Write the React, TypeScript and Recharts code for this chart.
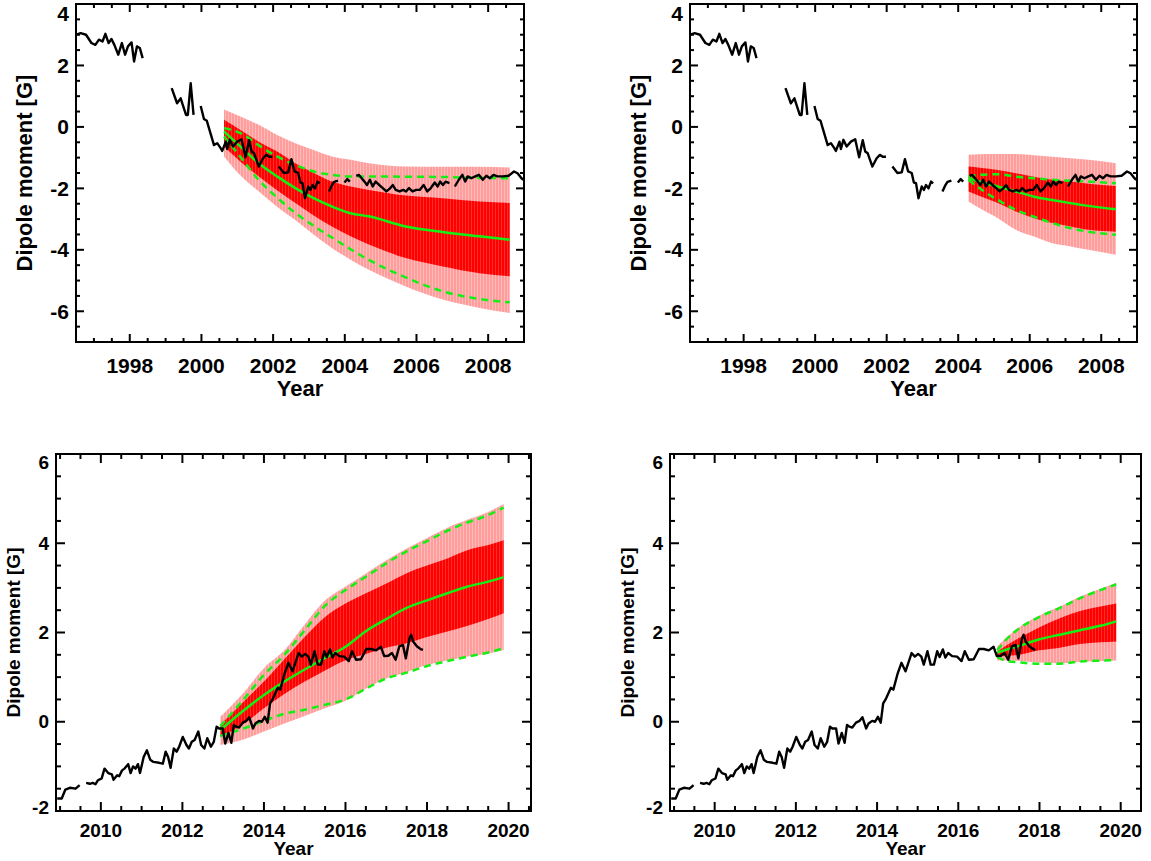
import React from "react";
import { Area, ComposedChart, Line, XAxis, YAxis } from "recharts";

// [year, dipole moment] — null marks a gap in the observed record
type Obs = [number, number | null];
// [year, outerLo, innerLo, dashLo, median, dashHi, innerHi, outerHi]
type Run = [number, number, number, number, number, number, number, number];

const OBS_1996_2009: Obs[] = [
  [1996.5, 3.0], [1996.63, 3.05], [1996.78, 3.0], [1996.93, 2.73], [1997.04, 2.67], [1997.14, 2.84],
  [1997.24, 2.78], [1997.32, 3.03], [1997.41, 2.73], [1997.49, 2.86], [1997.57, 2.67], [1997.68, 2.35],
  [1997.78, 2.73], [1997.87, 2.35], [1997.95, 2.62], [1998.05, 2.75], [1998.12, 2.13], [1998.2, 2.62],
  [1998.28, 2.57], [1998.36, 2.24],
  [1998.8, null],
  [1999.17, 1.26], [1999.32, 0.77], [1999.42, 0.93], [1999.57, 0.39], [1999.62, 0.39], [1999.7, 1.42],
  [1999.78, 0.39],
  [1999.88, null],
  [1999.98, 0.68], [2000.07, 0.26], [2000.15, 0.2], [2000.21, -0.04], [2000.35, -0.59], [2000.44, -0.53],
  [2000.54, -0.7], [2000.58, -0.78], [2000.68, -0.48], [2000.72, -0.72], [2000.79, -0.42], [2000.88, -0.64],
  [2001.0, -0.48], [2001.12, -0.4], [2001.23, -0.99], [2001.33, -0.43], [2001.4, -0.8], [2001.47, -0.86],
  [2001.6, -1.29], [2001.72, -1.02], [2001.81, -0.91], [2001.89, -0.97], [2001.98, -0.97],
  [2002.07, null],
  [2002.16, -1.29], [2002.3, -1.5], [2002.42, -1.48], [2002.51, -1.05], [2002.6, -1.45], [2002.7, -1.5],
  [2002.76, -1.81], [2002.82, -1.83], [2002.89, -2.32], [2002.98, -1.94], [2003.04, -2.05], [2003.1, -1.89],
  [2003.17, -2.0], [2003.24, -1.78], [2003.3, -1.84],
  [2003.43, null],
  [2003.56, -2.1], [2003.63, -1.92], [2003.7, -1.79], [2003.81, -1.75],
  [2003.9, null],
  [2003.99, -1.81], [2004.07, -1.7], [2004.14, -1.78],
  [2004.23, null],
  [2004.32, -1.59], [2004.39, -1.56], [2004.47, -1.67], [2004.55, -1.78], [2004.62, -1.89], [2004.7, -1.72],
  [2004.78, -1.94], [2004.86, -1.78], [2004.96, -1.89], [2005.06, -1.99], [2005.16, -2.1], [2005.27, -1.99],
  [2005.34, -1.89], [2005.42, -2.05], [2005.53, -2.1], [2005.63, -2.05], [2005.71, -2.1], [2005.79, -1.99],
  [2005.89, -2.1], [2005.99, -2.05], [2006.09, -2.05], [2006.2, -1.89], [2006.3, -2.1], [2006.4, -1.99],
  [2006.51, -1.81], [2006.59, -1.94], [2006.66, -1.78], [2006.74, -1.89], [2006.81, -1.78], [2006.92, -1.83],
  [2007.0, null],
  [2007.07, -1.94], [2007.18, -1.72], [2007.28, -1.56], [2007.36, -1.78], [2007.43, -1.61], [2007.53, -1.67],
  [2007.64, -1.61], [2007.74, -1.56], [2007.85, -1.72], [2007.95, -1.59], [2008.05, -1.67], [2008.15, -1.56],
  [2008.26, -1.61], [2008.41, -1.61], [2008.57, -1.59], [2008.72, -1.45], [2008.82, -1.51], [2008.93, -1.67],
  [2008.98, -1.72],
];

const OBS_2009_2018: Obs[] = [
  [2008.93, -1.72], [2009.04, -1.72], [2009.13, -1.52], [2009.24, -1.48], [2009.38, -1.5], [2009.48, -1.42],
  [2009.56, null],
  [2009.64, -1.37], [2009.73, -1.39], [2009.8, -1.37], [2009.87, -1.4], [2009.93, -1.31], [2010.02, -1.27],
  [2010.09, -1.05], [2010.18, -1.15], [2010.27, -1.18], [2010.31, -1.3], [2010.4, -1.2], [2010.45, -1.22],
  [2010.52, -1.09], [2010.58, -1.05], [2010.67, -0.95], [2010.73, -1.15], [2010.79, -1.0], [2010.85, -1.05],
  [2010.91, -0.95], [2010.96, -1.15], [2011.05, -0.79], [2011.13, -0.64], [2011.21, -0.85], [2011.29, -0.9],
  [2011.43, -0.92], [2011.52, -0.94], [2011.59, -0.67], [2011.65, -0.79], [2011.71, -1.03], [2011.79, -0.6],
  [2011.86, -0.67], [2011.92, -0.56], [2012.01, -0.34], [2012.1, -0.52], [2012.16, -0.6], [2012.23, -0.45],
  [2012.3, -0.41], [2012.39, -0.22], [2012.46, -0.52], [2012.54, -0.6], [2012.61, -0.37], [2012.7, -0.56],
  [2012.77, -0.45], [2012.84, -0.11], [2012.9, -0.15], [2012.99, -0.15], [2013.05, -0.49], [2013.13, -0.25],
  [2013.2, -0.47], [2013.26, -0.07], [2013.32, -0.11], [2013.39, -0.13], [2013.48, -0.02], [2013.57, 0.02],
  [2013.64, 0.1], [2013.73, -0.15], [2013.79, -0.04], [2013.88, 0.02], [2013.95, 0.0], [2014.02, 0.11],
  [2014.09, -0.02], [2014.15, 0.41], [2014.21, 0.5], [2014.34, 0.76], [2014.4, 0.72], [2014.5, 1.06],
  [2014.6, 1.32], [2014.7, 1.13], [2014.85, 1.54], [2014.93, 1.46], [2015.01, 1.52], [2015.09, 1.46],
  [2015.15, 1.28], [2015.24, 1.58], [2015.32, 1.28], [2015.4, 1.28], [2015.48, 1.58], [2015.54, 1.45],
  [2015.62, 1.62], [2015.68, 1.44], [2015.75, 1.54], [2015.85, 1.47], [2015.97, 1.46], [2016.08, 1.36],
  [2016.16, 1.58], [2016.26, 1.39], [2016.38, 1.4], [2016.51, 1.63], [2016.63, 1.63], [2016.75, 1.6],
  [2016.87, 1.68], [2016.95, 1.47], [2017.05, 1.48], [2017.14, 1.54], [2017.23, 1.39], [2017.32, 1.69],
  [2017.41, 1.72], [2017.48, 1.42], [2017.57, 1.87], [2017.61, 1.95], [2017.66, 1.8], [2017.75, 1.69],
  [2017.84, 1.63], [2017.9, 1.61],
];

const RUN_2000: Run[] = [
  [2000.63, -0.96, -0.64, -0.31, -0.15, -0.04, 0.23, 0.57],
  [2001.09, -1.58, -1.13, -0.98, -0.64, -0.2, -0.1, 0.34],
  [2001.6, -2.1, -1.61, -1.73, -1.18, -0.6, -0.48, 0.07],
  [2002.11, -2.6, -2.06, -2.3, -1.61, -0.96, -0.8, -0.26],
  [2002.62, -3.03, -2.48, -2.8, -1.99, -1.24, -1.18, -0.53],
  [2003.13, -3.5, -2.88, -3.22, -2.32, -1.45, -1.5, -0.75],
  [2003.64, -3.94, -3.24, -3.6, -2.59, -1.56, -1.78, -0.96],
  [2004.16, -4.32, -3.56, -3.98, -2.81, -1.61, -1.94, -1.07],
  [2004.67, -4.65, -3.83, -4.33, -2.91, -1.61, -2.05, -1.18],
  [2005.7, -5.19, -4.27, -4.9, -3.24, -1.62, -2.23, -1.29],
  [2006.73, -5.62, -4.54, -5.35, -3.42, -1.63, -2.32, -1.3],
  [2007.76, -5.89, -4.76, -5.6, -3.56, -1.66, -2.43, -1.3],
  [2008.6, -6.06, -4.86, -5.71, -3.67, -1.67, -2.48, -1.32],
];

const RUN_2004: Run[] = [
  [2004.29, -2.43, -2.1, -1.72, -1.67, -1.62, -1.29, -0.91],
  [2004.6, -2.65, -2.25, -2.0, -1.78, -1.56, -1.33, -0.89],
  [2005.11, -2.97, -2.48, -2.38, -1.94, -1.54, -1.4, -0.88],
  [2005.61, -3.35, -2.75, -2.7, -2.1, -1.62, -1.51, -0.88],
  [2006.12, -3.57, -2.97, -2.92, -2.27, -1.67, -1.62, -0.92],
  [2006.63, -3.79, -3.13, -3.13, -2.38, -1.72, -1.72, -0.97],
  [2007.14, -3.89, -3.24, -3.3, -2.48, -1.75, -1.78, -1.02],
  [2007.64, -4.0, -3.35, -3.41, -2.57, -1.78, -1.85, -1.07],
  [2008.41, -4.16, -3.41, -3.51, -2.68, -1.83, -1.92, -1.18],
];

const RUN_2013: Run[] = [
  [2012.93, -0.52, -0.34, -0.32, -0.19, -0.1, -0.07, 0.11],
  [2013.5, -0.4, -0.05, -0.15, 0.25, 0.5, 0.45, 0.65],
  [2014.0, -0.22, 0.3, 0.02, 0.6, 1.05, 0.9, 1.2],
  [2014.5, -0.04, 0.62, 0.18, 0.9, 1.5, 1.4, 1.6],
  [2015.0, 0.13, 0.9, 0.27, 1.17, 2.05, 1.9, 2.18],
  [2015.5, 0.3, 1.15, 0.38, 1.43, 2.6, 2.35, 2.72],
  [2016.0, 0.47, 1.38, 0.5, 1.68, 2.95, 2.65, 3.03],
  [2016.5, 0.74, 1.52, 0.74, 2.03, 3.25, 2.88, 3.32],
  [2017.0, 0.97, 1.66, 0.97, 2.3, 3.55, 3.1, 3.62],
  [2017.5, 1.11, 1.76, 1.1, 2.55, 3.82, 3.33, 3.88],
  [2018.0, 1.27, 1.9, 1.25, 2.72, 4.05, 3.5, 4.12],
  [2018.5, 1.37, 2.02, 1.36, 2.88, 4.28, 3.66, 4.35],
  [2019.0, 1.46, 2.15, 1.46, 3.03, 4.47, 3.85, 4.53],
  [2019.5, 1.53, 2.3, 1.55, 3.14, 4.63, 3.96, 4.7],
  [2019.88, 1.61, 2.43, 1.65, 3.24, 4.8, 4.07, 4.88],
];

const RUN_2017: Run[] = [
  [2016.96, 1.37, 1.46, 1.45, 1.55, 1.6, 1.57, 1.69],
  [2017.2, 1.37, 1.48, 1.36, 1.62, 1.86, 1.72, 1.9],
  [2017.5, 1.36, 1.5, 1.33, 1.7, 2.09, 1.88, 2.12],
  [2018.0, 1.33, 1.6, 1.3, 1.85, 2.35, 2.12, 2.38],
  [2018.5, 1.31, 1.66, 1.3, 1.95, 2.55, 2.32, 2.58],
  [2019.0, 1.34, 1.74, 1.35, 2.05, 2.77, 2.48, 2.8],
  [2019.5, 1.36, 1.78, 1.37, 2.15, 2.95, 2.58, 2.98],
  [2019.89, 1.37, 1.8, 1.38, 2.25, 3.08, 2.65, 3.11],
];

const X_MAJOR_TOP = [1998, 2000, 2002, 2004, 2006, 2008];
const Y_MAJOR_TOP = [-6, -4, -2, 0, 2, 4];
const X_MAJOR_BOTTOM = [2010, 2012, 2014, 2016, 2018, 2020];
const Y_MAJOR_BOTTOM = [-2, 0, 2, 4, 6];

const X_TITLE = "Year";
const Y_TITLE = "Dipole moment [G]";

const FONT = '"Liberation Sans", Arial, Helvetica, sans-serif';
const GREEN = "#14f014";
const AXIS_LINE = { stroke: "#000", strokeWidth: 2, strokeLinecap: "square" as const };

const TOP_STYLE = { tick: 21, title: 22, major: 8, minor: 4, xLabelDy: 23, titleDy: 46, yLabelDx: 7, yTitleDx: 52 };
const BOTTOM_STYLE = { tick: 19, title: 19, major: 9, minor: 5, xLabelDy: 19, titleDy: 37, yLabelDx: 7, yTitleDx: 43 };

interface PanelSpec {
  id: string;
  box: [number, number, number, number]; // x0, y0, x1, y1 of the plot frame on the page
  xDomain: [number, number];
  yDomain: [number, number];
  xMajor: number[];
  yMajor: number[];
  obs: Obs[];
  run: Run[];
  small: boolean;
}

const PANELS: PanelSpec[] = [
  { id: "a", box: [76, 4, 524, 342], xDomain: [1996.5, 2009], yDomain: [-7, 4], xMajor: X_MAJOR_TOP, yMajor: Y_MAJOR_TOP, obs: OBS_1996_2009, run: RUN_2000, small: false },
  { id: "b", box: [690, 4, 1137, 342], xDomain: [1996.5, 2009], yDomain: [-7, 4], xMajor: X_MAJOR_TOP, yMajor: Y_MAJOR_TOP, obs: OBS_1996_2009, run: RUN_2004, small: false },
  { id: "c", box: [56, 454, 531, 811], xDomain: [2008.9, 2020.55], yDomain: [-2, 6], xMajor: X_MAJOR_BOTTOM, yMajor: Y_MAJOR_BOTTOM, obs: OBS_2009_2018, run: RUN_2013, small: true },
  { id: "d", box: [670, 454, 1141, 811], xDomain: [2008.9, 2020.5], yDomain: [-2, 6], xMajor: X_MAJOR_BOTTOM, yMajor: Y_MAJOR_BOTTOM, obs: OBS_2009_2018, run: RUN_2017, small: true },
];

// every half unit inside the axis range (majors every 2, minors in between)
function halfTicks([lo, hi]: [number, number]) {
  const out: number[] = [];
  for (let v = Math.ceil(lo * 2) / 2; v <= hi + 1e-9; v += 0.5) out.push(Math.round(v * 2) / 2);
  return out;
}

const PL = 70;
const PR = 10;
const PT = 4;
const PB = 60;

function Panel({ spec }: { spec: PanelSpec }) {
  const st = spec.small ? BOTTOM_STYLE : TOP_STYLE;
  const [bx0, by0, bx1, by1] = spec.box;
  const W = bx1 - bx0;
  const H = by1 - by0;

  const obs = spec.obs.map(([x, v]) => ({ x, v }));
  const run = spec.run.map(([x, oLo, iLo, dLo, med, dHi, iHi, oHi]) => ({
    x,
    outer: [oLo, oHi],
    inner: [iLo, iHi],
    dLo,
    med,
    dHi,
  }));
  const xTicks = halfTicks(spec.xDomain);
  const yTicks = halfTicks(spec.yDomain);

  const label = { fontFamily: FONT, fontWeight: 700, fontSize: st.tick, fill: "#000" };
  const digitH = st.tick * 0.72;
  const plotTop = PT;
  const plotBottom = PT + H;

  const bottomTick = (p: any) => {
    const v = p.payload.value;
    const major = spec.xMajor.includes(v);
    return (
      <g>
        <line x1={p.x} x2={p.x} y1={p.y} y2={p.y - (major ? st.major : st.minor)} stroke="#000" strokeWidth={2} />
        {major && (
          <text x={p.x} y={p.y + st.xLabelDy} textAnchor="middle" dominantBaseline="central" style={label}>
            {v}
          </text>
        )}
      </g>
    );
  };
  const topTick = (p: any) => {
    const major = spec.xMajor.includes(p.payload.value);
    return <line x1={p.x} x2={p.x} y1={p.y} y2={p.y + (major ? st.major : st.minor)} stroke="#000" strokeWidth={2} />;
  };
  const leftTick = (p: any) => {
    const v = p.payload.value;
    const major = spec.yMajor.includes(v);
    const ty = Math.min(Math.max(p.y, plotTop + digitH / 2 + 2), plotBottom - digitH / 2 + 3);
    return (
      <g>
        <line x1={p.x} x2={p.x + (major ? st.major : st.minor)} y1={p.y} y2={p.y} stroke="#000" strokeWidth={2} />
        {major && (
          <text x={p.x - st.yLabelDx} y={ty} textAnchor="end" dominantBaseline="central" style={label}>
            {v}
          </text>
        )}
      </g>
    );
  };
  const rightTick = (p: any) => {
    const major = spec.yMajor.includes(p.payload.value);
    return <line x1={p.x} x2={p.x - (major ? st.major : st.minor)} y1={p.y} y2={p.y} stroke="#000" strokeWidth={2} />;
  };

  const pink = `pink-${spec.id}`;
  const red = `red-${spec.id}`;

  return (
    <div style={{ position: "absolute", left: bx0 - PL, top: by0 - PT }}>
      <ComposedChart width={W + PL + PR} height={H + PT + PB} margin={{ top: 0, right: 0, bottom: 0, left: 0 }}>
        <defs>
          <pattern id={pink} width={3} height={10} patternUnits="userSpaceOnUse">
            <rect width={3} height={10} fill="#ff9c9c" />
            <rect width={1} height={10} fill="#ffbaba" />
          </pattern>
          <pattern id={red} width={3} height={10} patternUnits="userSpaceOnUse">
            <rect width={3} height={10} fill="#ff0000" />
            <rect width={1} height={10} fill="#ff2c2c" />
          </pattern>
        </defs>
        <Area xAxisId="b" yAxisId="l" data={run} dataKey="outer" type="monotone" stroke="none" fill={`url(#${pink})`} fillOpacity={1} dot={false} activeDot={false} isAnimationActive={false} />
        <Area xAxisId="b" yAxisId="l" data={run} dataKey="inner" type="monotone" stroke="none" fill={`url(#${red})`} fillOpacity={1} dot={false} activeDot={false} isAnimationActive={false} />
        <Line xAxisId="b" yAxisId="l" data={run} dataKey="med" type="monotone" stroke={GREEN} strokeWidth={2.5} dot={false} activeDot={false} isAnimationActive={false} />
        <Line xAxisId="b" yAxisId="l" data={run} dataKey="dHi" type="monotone" stroke={GREEN} strokeWidth={2.5} strokeDasharray="7 5" dot={false} activeDot={false} isAnimationActive={false} />
        <Line xAxisId="b" yAxisId="l" data={run} dataKey="dLo" type="monotone" stroke={GREEN} strokeWidth={2.5} strokeDasharray="7 5" dot={false} activeDot={false} isAnimationActive={false} />
        <Line xAxisId="b" yAxisId="l" data={obs} dataKey="v" type="linear" stroke="#000" strokeWidth={2.4} strokeLinejoin="round" dot={false} activeDot={false} connectNulls={false} isAnimationActive={false} />
        <XAxis xAxisId="b" dataKey="x" type="number" orientation="bottom" domain={spec.xDomain} allowDataOverflow ticks={xTicks} interval={0} height={PB} tickSize={0} tickMargin={0} tickLine={false} axisLine={AXIS_LINE} tick={bottomTick} />
        <XAxis xAxisId="t" dataKey="x" type="number" orientation="top" domain={spec.xDomain} allowDataOverflow ticks={xTicks} interval={0} height={PT} tickSize={0} tickMargin={0} tickLine={false} axisLine={AXIS_LINE} tick={topTick} />
        <YAxis yAxisId="l" type="number" orientation="left" domain={spec.yDomain} allowDataOverflow ticks={yTicks} interval={0} width={PL} tickSize={0} tickMargin={0} tickLine={false} axisLine={AXIS_LINE} tick={leftTick} />
        <YAxis yAxisId="r" type="number" orientation="right" domain={spec.yDomain} allowDataOverflow ticks={yTicks} interval={0} width={PR} tickSize={0} tickMargin={0} tickLine={false} axisLine={AXIS_LINE} tick={rightTick} />
      </ComposedChart>
    </div>
  );
}

function Titles() {
  return (
    <svg width={1151} height={861} style={{ position: "absolute", left: 0, top: 0, pointerEvents: "none" }}>
      {PANELS.map((p) => {
        const st = p.small ? BOTTOM_STYLE : TOP_STYLE;
        const [x0, y0, x1, y1] = p.box;
        const cx = (x0 + x1) / 2;
        const cy = (y0 + y1) / 2;
        const style = { fontFamily: FONT, fontWeight: 700, fontSize: st.title, fill: "#000" };
        return (
          <g key={p.id}>
            <text x={cx} y={y1 + st.titleDy} textAnchor="middle" dominantBaseline="central" style={style}>
              {X_TITLE}
            </text>
            <text
              x={x0 - st.yTitleDx}
              y={cy}
              textAnchor="middle"
              dominantBaseline="central"
              transform={`rotate(-90 ${x0 - st.yTitleDx} ${cy})`}
              style={style}
            >
              {Y_TITLE}
            </text>
          </g>
        );
      })}
    </svg>
  );
}

export default function App() {
  return (
    <div style={{ position: "absolute", left: 0, top: 0, width: 1151, height: 861, background: "#fff" }}>
      {PANELS.map((p) => (
        <Panel key={p.id} spec={p} />
      ))}
      <Titles />
    </div>
  );
}
